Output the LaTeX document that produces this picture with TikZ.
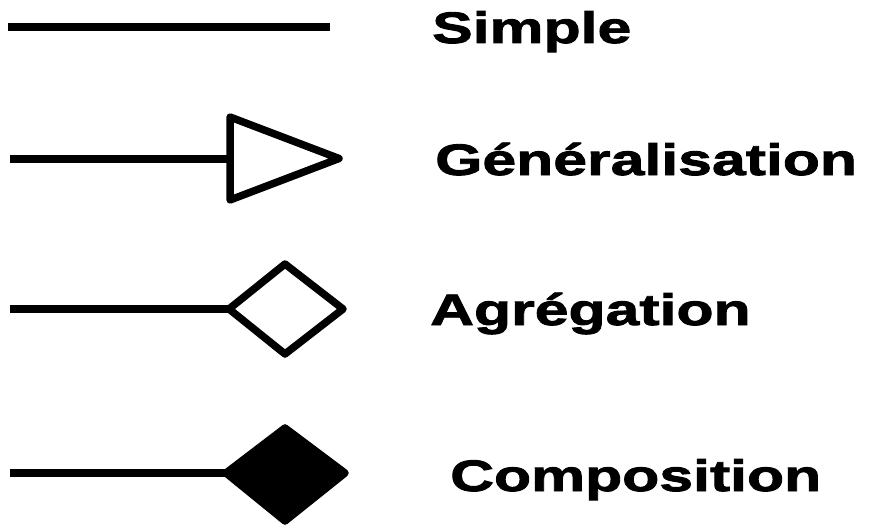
\documentclass[tikz,border=0pt]{standalone}
\usepackage{fontspec}
\newfontfamily\labfont{Liberation Sans}[FakeStretch=1.38,FakeBold=2]
\begin{document}
\begin{tikzpicture}[x=1pt,y=-1pt,
  conn/.style={line width=7.5pt},
  endshape/.style={line width=7.5pt,line join=round},
  lab/.style={anchor=base west,inner sep=0pt,font=\labfont\bfseries\fontsize{44}{44}\selectfont}]
\useasboundingbox (0,0) rectangle (869,527);
% row 1 : simple
\coordinate (s1) at (8,27);
\coordinate (e1) at (330,27);
\draw[conn] (s1) -- (e1);
\node[lab] (t1) at (432,43) {Simple};
% row 2 : generalisation
\coordinate (s2) at (10,159);
\coordinate (g1) at (230,117);
\coordinate (g2) at (230,200);
\coordinate (g3) at (339,158.5);
\coordinate (e2) at (230,159);
\draw[conn] (s2) -- (e2);
\draw[endshape,fill=white] (g1) -- (g3) -- (g2) -- cycle;
\node[lab] (t2) at (435,175) {Généralisation};
% row 3 : agregation
\coordinate (s3) at (10,309);
\coordinate (aL) at (229,309);
\coordinate (aT) at (285,264);
\coordinate (aR) at (343,309);
\coordinate (aB) at (285,354);
\draw[conn] (s3) -- (aL);
\draw[endshape,fill=white] (aL) -- (aT) -- (aR) -- (aB) -- cycle;
\node[lab] (t3) at (430,325) {Agrégation};
% row 4 : composition
\coordinate (s4) at (10,473);
\coordinate (cL) at (226,473);
\coordinate (cT) at (285,428);
\coordinate (cR) at (345,473);
\coordinate (cB) at (285,521);
\draw[conn] (s4) -- (cL);
\draw[endshape,fill=black] (cL) -- (cT) -- (cR) -- (cB) -- cycle;
\node[lab] (t4) at (450,491) {Composition};
\end{tikzpicture}
\end{document}
